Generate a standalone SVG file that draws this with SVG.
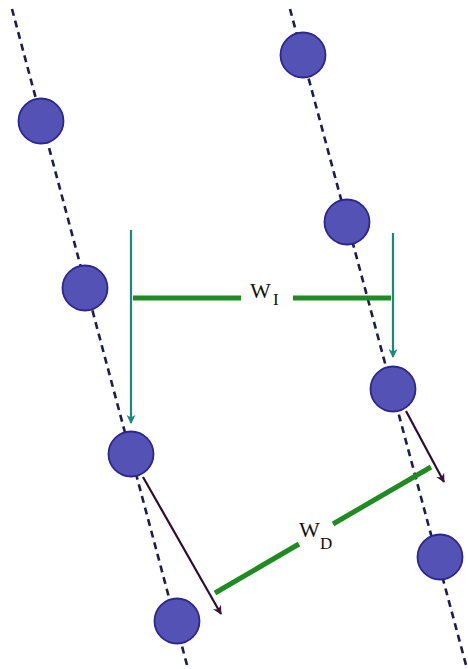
<svg xmlns="http://www.w3.org/2000/svg" width="468" height="669" viewBox="0 0 468 669">
  <defs>
    <style>
      .axis { stroke: #1c1c50; stroke-width: 2.6; stroke-dasharray: 7 5; fill: none; }
      .ball { fill: #5552b6; stroke: #2a2890; stroke-width: 1.8; }
      .teal { stroke: #178a7e; stroke-width: 2.2; fill: none; }
      .dark { stroke: #2c0f2c; stroke-width: 2.2; fill: none; }
      .green { stroke: #1f8c22; stroke-width: 5; fill: none; }
      .lbl { font-family: "Liberation Serif", "Times New Roman", serif; fill: #111; }
    </style>
    <marker id="ah-teal" viewBox="0 0 10 10" refX="9" refY="5" markerWidth="11" markerHeight="9" markerUnits="userSpaceOnUse" orient="auto">
      <path d="M0,0 L10,5 L0,10 L3,5 z" fill="#178a7e"/>
    </marker>
    <marker id="ah-dark" viewBox="0 0 10 10" refX="9" refY="5" markerWidth="11" markerHeight="9" markerUnits="userSpaceOnUse" orient="auto">
      <path d="M0,0 L10,5 L0,10 L3,5 z" fill="#3a123a"/>
    </marker>
  </defs>
  <rect width="468" height="669" fill="#ffffff"/>

  <g id="connectors">
    <line class="axis" x1="12" y1="9" x2="187" y2="665"/>
    <line class="axis" x1="290" y1="9" x2="466" y2="665"/>
    <line class="teal" x1="131" y1="230" x2="131" y2="423" marker-end="url(#ah-teal)"/>
    <line class="teal" x1="393" y1="233" x2="393" y2="357" marker-end="url(#ah-teal)"/>
    <line class="green" x1="133" y1="298" x2="241" y2="298"/>
    <line class="green" x1="293" y1="298" x2="391" y2="298"/>
    <line class="green" x1="215" y1="593" x2="299" y2="544"/>
    <line class="green" x1="333" y1="524" x2="431" y2="467"/>
    <line class="dark" x1="143" y1="477" x2="221" y2="614" marker-end="url(#ah-dark)"/>
    <line class="dark" x1="406" y1="411" x2="444" y2="482" marker-end="url(#ah-dark)"/>
  </g>

  <g id="ball-L1"><circle class="ball" cx="41" cy="121" r="22.5"/></g>
  <g id="ball-L2"><circle class="ball" cx="85" cy="288" r="22.5"/></g>
  <g id="ball-L3"><circle class="ball" cx="131" cy="454" r="22.5"/></g>
  <g id="ball-L4"><circle class="ball" cx="177" cy="621" r="22.5"/></g>
  <g id="ball-R1"><circle class="ball" cx="303" cy="55" r="22.5"/></g>
  <g id="ball-R2"><circle class="ball" cx="347" cy="222" r="22.5"/></g>
  <g id="ball-R3"><circle class="ball" cx="393" cy="389" r="22.5"/></g>
  <g id="ball-R4"><circle class="ball" cx="440" cy="557" r="22.5"/></g>

  <g id="label-WI">
    <text class="lbl" x="250" y="298" font-size="22">W</text>
    <text class="lbl" x="273" y="305" font-size="17">I</text>
  </g>
  <g id="label-WD">
    <text class="lbl" x="299" y="537" font-size="22">W</text>
    <text class="lbl" x="320" y="549" font-size="17">D</text>
  </g>
</svg>
